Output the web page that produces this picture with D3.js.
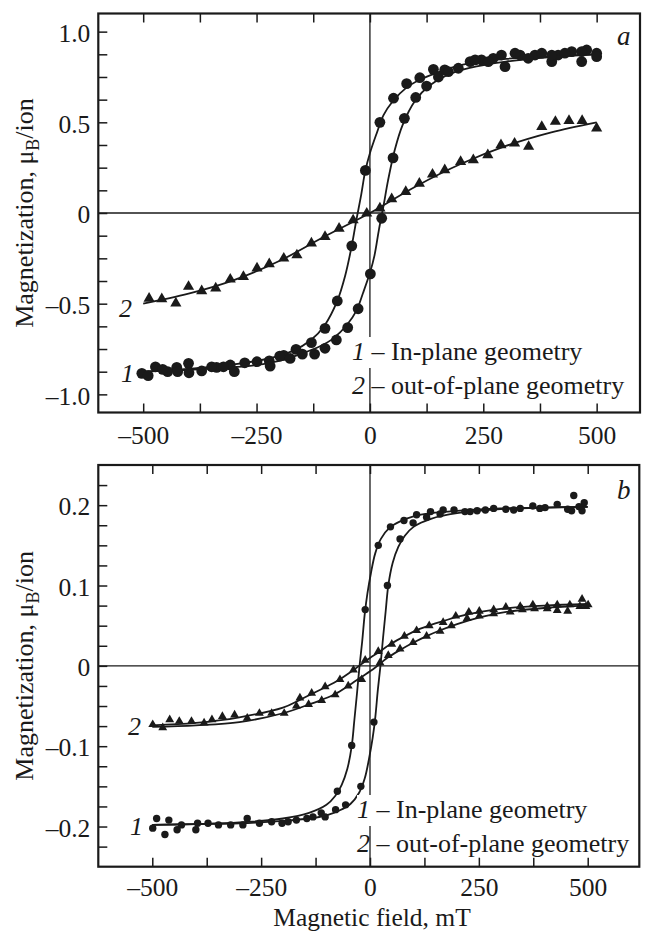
<!DOCTYPE html>
<html>
<head>
<meta charset="utf-8">
<script src="https://cdn.jsdelivr.net/npm/d3@7"></script>
<style>
  html, body { margin: 0; padding: 0; background: #fff; }
  svg { display: block; }
  text { font-family: "Liberation Serif", "Times New Roman", serif; fill: #1a1a1a; }
</style>
</head>
<body>
<svg id="chart" width="645" height="931"></svg>
<script>
// ---- data: [field mT, magnetization muB/ion] ----

// panel a, curve 1 (in-plane), circles
var aCircleDown = [[500,0.881],[478,0.899],[467,0.835],[445,0.890],[415,0.871],[401,0.835],[364,0.871],
  [331,0.871],[298,0.807],[272,0.853],[246,0.844],[221,0.835],[195,0.798],[165,0.789],[140,0.792],
  [110,0.746],[81,0.713],[52,0.633],[22,0.50],[-10,0.235],[-40,-0.181],[-72,-0.485],[-99,-0.636],
  [-129,-0.715],[-163,-0.752],[-190,-0.785],[-222,-0.815],[-249,-0.820],[-276,-0.826],[-308,-0.838],
  [-338,-0.851],[-371,-0.871],[-400,-0.829],[-426,-0.851],[-446,-0.875],[-473,-0.848],[-503,-0.884]];
var aCircleUp = [[-489,-0.897],[-457,-0.862],[-424,-0.875],[-399,-0.881],[-349,-0.848],[-323,-0.848],
  [-299,-0.875],[-220,-0.844],[-199,-0.789],[-176,-0.802],[-149,-0.778],[-122,-0.778],[-99,-0.746],
  [-74,-0.700],[-49,-0.632],[-26,-0.528],[1,-0.336],[26,-0.029],[51,0.304],[76,0.522],[101,0.637],
  [125,0.700],[151,0.750],[173,0.779],[232,0.844],[261,0.835],[290,0.871],[320,0.881],[349,0.853],
  [379,0.881],[401,0.871],[430,0.881],[467,0.890],[500,0.862]];
// panel a, curve 2 (out-of-plane), triangles
var aTriangle = [[-487,-0.471],[-459,-0.474],[-428,-0.498],[-400,-0.406],[-371,-0.430],[-340,-0.415],
  [-308,-0.366],[-279,-0.351],[-249,-0.305],[-222,-0.281],[-190,-0.250],[-161,-0.232],[-129,-0.167],
  [-99,-0.131],[-68,-0.085],[-37,-0.039],[-7,-0.002],[22,0.026],[48,0.077],[79,0.117],[109,0.163],
  [138,0.213],[165,0.237],[200,0.283],[228,0.292],[260,0.320],[289,0.375],[319,0.384],[350,0.366],
  [379,0.476],[409,0.504],[439,0.509],[468,0.509],[500,0.467]];

// panel a fitted curves
var aFitDown = [[500,0.875],[400,0.865],[300,0.85],[250,0.838],[200,0.815],[150,0.775],[110,0.735],
  [80,0.69],[50,0.615],[30,0.54],[15,0.44],[0,0.33],[-10,0.235],[-20,0.09],[-30,-0.04],[-40,-0.18],
  [-55,-0.35],[-72,-0.485],[-100,-0.62],[-130,-0.70],[-170,-0.76],[-220,-0.80],[-300,-0.835],
  [-400,-0.86],[-500,-0.875]];
var aFitUp = [[-500,-0.875],[-400,-0.865],[-300,-0.85],[-250,-0.838],[-200,-0.815],[-150,-0.775],
  [-110,-0.735],[-80,-0.69],[-50,-0.615],[-30,-0.54],[-15,-0.44],[0,-0.33],[10,-0.235],[20,-0.09],
  [30,0.04],[40,0.18],[55,0.35],[72,0.485],[100,0.62],[130,0.70],[170,0.76],[220,0.80],[300,0.835],
  [400,0.86],[500,0.875]];
var aFitTriangle = [[-500,-0.50],[-400,-0.445],[-300,-0.37],[-200,-0.265],[-100,-0.13],[0,0.0],
  [100,0.145],[200,0.27],[300,0.37],[400,0.445],[500,0.50]];

// panel b, curve 1 (in-plane), circles
var bCircleDown = [[492,0.203],[487,0.193],[468,0.212],[463,0.193],[430,0.201],[402,0.197],[374,0.199],
  [345,0.196],[312,0.195],[284,0.196],[246,0.193],[218,0.192],[193,0.194],[168,0.194],[139,0.192],
  [107,0.188],[78,0.181],[47,0.173],[19,0.150],[-11,0.070],[-42,-0.099],[-75,-0.156],[-112,-0.183],
  [-145,-0.190],[-188,-0.194],[-226,-0.194],[-282,-0.190],[-320,-0.198],[-372,-0.196],[-400,-0.204],
  [-443,-0.204],[-471,-0.210],[-499,-0.202]];
var bCircleUp = [[-490,-0.190],[-462,-0.192],[-433,-0.198],[-396,-0.196],[-348,-0.198],[-292,-0.198],
  [-254,-0.196],[-202,-0.196],[-169,-0.192],[-131,-0.188],[-103,-0.188],[-79,-0.179],[-56,-0.173],
  [-21,-0.150],[9,-0.070],[40,0.100],[69,0.158],[99,0.178],[130,0.185],[161,0.189],[230,0.192],
  [265,0.194],[330,0.194],[390,0.196],[454,0.195],[480,0.198]];
// panel b, curve 2 (out-of-plane), triangles
var bTriangleDown = [[501,0.076],[487,0.083],[459,0.076],[430,0.076],[407,0.074],[374,0.076],[345,0.074],
  [312,0.073],[284,0.070],[251,0.068],[227,0.067],[197,0.062],[168,0.054],[136,0.050],[107,0.044],
  [79,0.037],[50,0.027],[19,0.018],[-11,0.007],[-38,-0.005],[-69,-0.017],[-103,-0.026],[-134,-0.034],
  [-161,-0.040],[-197,-0.059],[-226,-0.059],[-254,-0.059],[-311,-0.061],[-339,-0.063],[-363,-0.067],
  [-410,-0.069],[-460,-0.067],[-499,-0.073]];
var bTriangleUp = [[-476,-0.077],[-438,-0.069],[-381,-0.071],[-282,-0.065],[-169,-0.050],[-141,-0.048],
  [-111,-0.043],[-80,-0.036],[-50,-0.025],[-19,-0.017],[23,0.004],[42,0.013],[69,0.021],[99,0.029],
  [130,0.037],[161,0.043],[187,0.050],[223,0.059],[251,0.062],[284,0.065],[322,0.067],[350,0.070],
  [378,0.071],[407,0.071],[430,0.069],[454,0.068],[482,0.074],[496,0.074]];

// panel b fitted curves
var bFitDown = [[500,0.198],[400,0.197],[300,0.196],[200,0.193],[140,0.19],[100,0.186],[70,0.18],
  [45,0.172],[25,0.158],[12,0.14],[2,0.115],[-6,0.09],[-12,0.065],[-18,0.03],[-24,0.0],[-30,-0.035],
  [-36,-0.068],[-42,-0.10],[-52,-0.128],[-65,-0.148],[-80,-0.162],[-100,-0.173],[-140,-0.183],
  [-200,-0.19],[-300,-0.195],[-400,-0.197],[-500,-0.198]];
var bFitUp = [[-500,-0.198],[-400,-0.197],[-300,-0.196],[-200,-0.193],[-140,-0.19],[-100,-0.186],
  [-70,-0.18],[-45,-0.172],[-25,-0.158],[-12,-0.14],[-2,-0.115],[6,-0.09],[12,-0.065],[18,-0.03],
  [24,0.0],[30,0.035],[36,0.068],[42,0.10],[52,0.128],[65,0.148],[80,0.162],[100,0.173],[140,0.183],
  [200,0.19],[300,0.195],[400,0.197],[500,0.198]];
var bFitTriangleDown = [[-500,-0.074],[-400,-0.071],[-300,-0.064],[-200,-0.052],[-160,-0.042],
  [-130,-0.034],[-100,-0.026],[-70,-0.017],[-40,-0.006],[-10,0.006],[20,0.017],[50,0.028],[80,0.037],
  [110,0.045],[140,0.051],[170,0.056],[200,0.061],[250,0.067],[300,0.071],[400,0.075],[500,0.077]];
var bFitTriangleUp = [[-500,-0.076],[-400,-0.074],[-300,-0.07],[-200,-0.059],[-150,-0.05],[-110,-0.042],
  [-80,-0.035],[-50,-0.025],[-20,-0.014],[10,-0.003],[40,0.01],[70,0.02],[100,0.029],[130,0.037],
  [160,0.044],[200,0.052],[250,0.06],[300,0.066],[400,0.072],[500,0.075]];

// ticks and labels
var xTicks = [-500, -375, -250, -125, 0, 125, 250, 375, 500];
var xTickValues = [-500, -250, 0, 250, 500];
var xTickLabels = ['\u2013500', '\u2013250', '0', '250', '500'];
var yTicksA = [-1, -0.875, -0.75, -0.625, -0.5, -0.375, -0.25, -0.125, 0, 0.125, 0.25, 0.375, 0.5, 0.625, 0.75, 0.875, 1];
var yTickValuesA = [-1, -0.5, 0, 0.5, 1];
var yTickLabelsA = ['\u20131.0', '\u20130.5', '0', '0.5', '1.0'];
var yTicksB = [-0.225, -0.2, -0.175, -0.15, -0.125, -0.1, -0.075, -0.05, -0.025, 0, 0.025, 0.05, 0.075, 0.1, 0.125, 0.15, 0.175, 0.2, 0.225];
var yTickValuesB = [-0.2, -0.1, 0, 0.1, 0.2];
var yTickLabelsB = ['\u20130.2', '\u20130.1', '0', '0.1', '0.2'];
var legendLines = ['In-plane geometry', 'out-of-plane geometry'];

var ink = '#1a1a1a';
var svg = d3.select('#chart');

function labelFor(values, labels) {
  return function(d) {
    for (var i = 0; i < values.length; ++i) {
      if (Math.abs(values[i] - d) < 1e-9) return labels[i];
    }
    return '';
  };
}

function drawPanel(p) {
  var g = svg.append('g');
  var x = d3.scaleLinear().domain(p.xDomain).range([p.left, p.right]);
  var y = d3.scaleLinear().domain(p.yDomain).range([p.bottom, p.top]);

  // zero lines
  g.append('line').attr('x1', p.left).attr('x2', p.right)
    .attr('y1', y(0)).attr('y2', y(0))
    .attr('stroke', ink).attr('stroke-width', 1.3);
  g.append('line').attr('x1', x(0)).attr('x2', x(0))
    .attr('y1', p.top).attr('y2', p.bottom)
    .attr('stroke', ink).attr('stroke-width', 1.3);

  var line = d3.line()
    .x(function(d) { return x(d[0]); })
    .y(function(d) { return y(d[1]); })
    .curve(d3.curveCatmullRom.alpha(0.5));

  p.fits.forEach(function(f) {
    g.append('path').attr('d', line(f))
      .attr('fill', 'none').attr('stroke', ink).attr('stroke-width', 1.8);
  });

  p.circles.forEach(function(s) {
    g.selectAll(null).data(s).enter().append('circle')
      .attr('cx', function(d) { return x(d[0]); })
      .attr('cy', function(d) { return y(d[1]); })
      .attr('r', p.circleR).attr('fill', ink);
  });

  var tri = d3.symbol().type(d3.symbolTriangle).size(p.triSize);
  p.triangles.forEach(function(s) {
    g.selectAll(null).data(s).enter().append('path')
      .attr('d', tri)
      .attr('transform', function(d) { return 'translate(' + x(d[0]) + ',' + y(d[1]) + ')'; })
      .attr('fill', ink);
  });

  // axes: ticks point inward, labels only on the bottom and left
  var bottomAxis = d3.axisBottom(x).tickValues(xTicks).tickSizeInner(-9).tickSizeOuter(0)
    .tickPadding(p.xPad).tickFormat(labelFor(xTickValues, xTickLabels));
  var topAxis = d3.axisTop(x).tickValues(xTicks).tickSizeInner(-9).tickSizeOuter(0).tickFormat('');
  var leftAxis = d3.axisLeft(y).tickValues(p.yTicks).tickSizeInner(-9).tickSizeOuter(0)
    .tickPadding(8).tickFormat(labelFor(p.yTickValues, p.yTickLabels));

  var axes = [
    g.append('g').attr('transform', 'translate(0,' + p.bottom + ')').call(bottomAxis),
    g.append('g').attr('transform', 'translate(0,' + p.top + ')').call(topAxis),
    g.append('g').attr('transform', 'translate(' + p.left + ',0)').call(leftAxis)
  ];
  axes.forEach(function(a) {
    a.select('.domain').remove();
    a.selectAll('line').attr('stroke', ink).attr('stroke-width', 1.5);
    a.selectAll('text').attr('font-family', '"Liberation Serif", "Times New Roman", serif')
      .attr('font-size', 25.5).attr('fill', ink);
  });
  axes[2].selectAll('text').attr('dy', '0.38em');

  // frame
  g.append('rect').attr('x', p.left).attr('y', p.top)
    .attr('width', p.right - p.left).attr('height', p.bottom - p.top)
    .attr('fill', 'none').attr('stroke', ink).attr('stroke-width', 2.2);

  // y title
  var yt = g.append('text')
    .attr('transform', 'translate(33,' + y(0) + ') rotate(-90)')
    .attr('text-anchor', 'middle').attr('font-size', 26);
  yt.append('tspan').text('Magnetization, \u03bc');
  yt.append('tspan').attr('font-size', 18).attr('dy', 6).text('B');
  yt.append('tspan').attr('dy', -6).text('/ion');

  // panel letter
  g.append('text').attr('x', 617).attr('y', p.letterY)
    .attr('font-size', 27).attr('font-style', 'italic').text(p.letter);

  // curve numbers
  p.curveNums.forEach(function(c) {
    g.append('text').attr('x', c[0]).attr('y', c[1])
      .attr('font-size', 26).attr('font-style', 'italic').text(c[2]);
  });

  // legend
  var leg = g.append('g');
  legendLines.forEach(function(txt, i) {
    var t = leg.append('text').attr('x', p.legendX).attr('y', p.legendY + i * 34)
      .attr('font-size', 26);
    t.append('tspan').attr('font-style', 'italic').text(String(i + 1));
    t.append('tspan').text(' \u2013 ' + txt);
    if (i === 0) {
      // first legend line sits on a white patch that cuts the zero line
      var bb = t.node().getBBox();
      leg.insert('rect', function() { return t.node(); })
        .attr('x', bb.x).attr('y', bb.y).attr('width', bb.width).attr('height', bb.height + 2)
        .attr('fill', '#fff');
    }
  });

  return g;
}

drawPanel({
  left: 98.3, right: 640, top: 13.5, bottom: 412.5,
  xDomain: [-599, 595.6], yDomain: [-1.1, 1.1], xPad: 13,
  yTicks: yTicksA, yTickValues: yTickValuesA, yTickLabels: yTickLabelsA,
  fits: [aFitDown, aFitUp, aFitTriangle],
  circles: [aCircleDown, aCircleUp],
  triangles: [aTriangle],
  circleR: 5.4, triSize: 54,
  letter: 'a', letterY: 45,
  curveNums: [[119, 317, '2'], [121, 382, '1']],
  legendX: 352, legendY: 360
});

drawPanel({
  left: 98.3, right: 639.3, top: 465, bottom: 866.7,
  xDomain: [-624, 618.5], yDomain: [-0.25, 0.25], xPad: 11.5,
  yTicks: yTicksB, yTickValues: yTickValuesB, yTickLabels: yTickLabelsB,
  fits: [bFitDown, bFitUp, bFitTriangleDown, bFitTriangleUp],
  circles: [bCircleDown, bCircleUp],
  triangles: [bTriangleDown, bTriangleUp],
  circleR: 3.7, triSize: 34,
  letter: 'b', letterY: 499,
  curveNums: [[128, 735, '2'], [130, 835, '1']],
  legendX: 357, legendY: 818
});

// x title
svg.append('text').attr('x', 372).attr('y', 925.5)
  .attr('text-anchor', 'middle').attr('font-size', 25.5)
  .text('Magnetic field, mT');
</script>
</body>
</html>
